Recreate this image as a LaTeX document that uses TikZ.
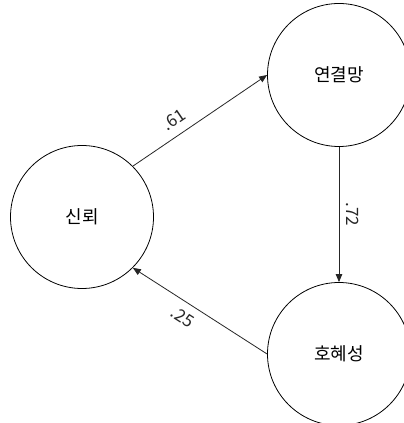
\documentclass[tikz,border=0pt]{standalone}
\usepackage{fontspec}
\setmainfont{Noto Sans CJK KR}
\usetikzlibrary{arrows.meta}
\begin{document}
\begin{tikzpicture}[x=1pt,y=1pt,
  circnode/.style={circle,draw=black,line width=0.8pt,minimum size=143pt,inner sep=0pt,
    font=\fontsize{18}{21}\selectfont},
  arr/.style={-{Triangle[length=8pt,width=6.5pt]},line width=0.8pt,draw=black!85},
  lbl/.style={font=\fontsize{17}{20}\selectfont,text=black!85}]
\useasboundingbox (0,0) rectangle (404,423);
\fill[white] (0,0) rectangle (404,423);
\node[circnode] (trust) at (82,206) {신뢰};
\node[circnode] (net) at (339,348) {연결망};
\node[circnode] (recip) at (339,69) {호혜성};
\draw[arr] (trust.45) -- node[lbl,pos=0.37,sloped,anchor=south,inner sep=9pt] {.61} (net.west);
\draw[arr] (net.south) -- node[lbl,midway,rotate=-90,anchor=south,inner sep=7pt] {.72} (recip.north);
\draw[arr,{Triangle[length=8pt,width=6.5pt]}-] (trust.-45) -- node[lbl,pos=0.43,sloped,anchor=north,inner sep=8pt] {.25} (recip.west);
\end{tikzpicture}
\end{document}
